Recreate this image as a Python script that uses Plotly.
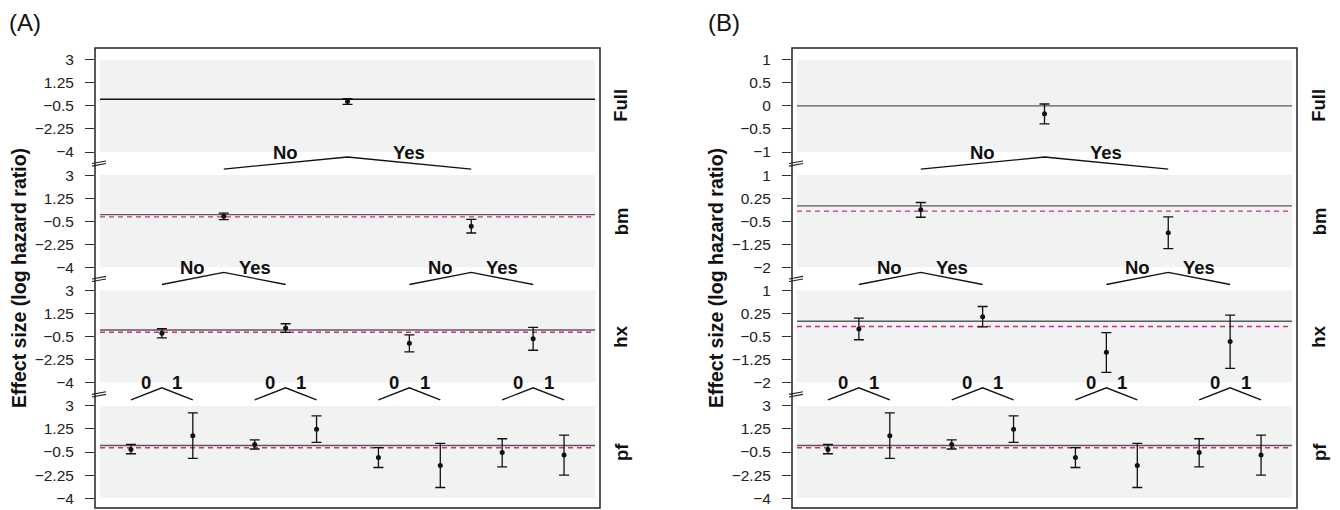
import plotly.graph_objects as go

# ---------------- data ----------------
levels = ["Full", "bm", "hx", "pf"]
branch_labels = [None, ["No", "Yes"], ["No", "Yes"], ["0", "1"]]

full_est = [-0.17]
full_lo = [-0.39]
full_hi = [0.04]

bm_est = [-0.13, -0.87]
bm_lo = [-0.37, -1.39]
bm_hi = [0.11, -0.36]

hx_est = [-0.25, 0.15, -1.01, -0.66]
hx_lo = [-0.60, -0.18, -1.66, -1.53]
hx_hi = [0.10, 0.48, -0.37, 0.20]

pf_est = [-0.30, 0.74, 0.08, 1.22, -0.91, -1.52, -0.53, -0.73]
pf_lo = [-0.63, -0.98, -0.27, 0.24, -1.67, -3.19, -1.62, -2.25]
pf_hi = [0.08, 2.47, 0.43, 2.24, -0.17, 0.16, 0.51, 0.79]

reference_value = 0.0          # solid line
pooled_value = -0.17           # dashed line (full-model estimate)

ticks_A = [[3, 1.25, -0.5, -2.25, -4]] * 4
ticks_B = [[1, 0.5, 0, -0.5, -1],
           [1, 0.25, -0.5, -1.25, -2],
           [1, 0.25, -0.5, -1.25, -2],
           [3, 1.25, -0.5, -2.25, -4]]

series = [(full_est, full_lo, full_hi), (bm_est, bm_lo, bm_hi),
          (hx_est, hx_lo, hx_hi), (pf_est, pf_lo, pf_hi)]

# ---------------- layout constants (pixels) ----------------
W, H = 1340, 510
FONT = "Liberation Sans, Arial, Helvetica, sans-serif"
BOX_TOP, BOX_BOT = 48, 508
BAND_T0, BAND_PITCH, BAND_H = 59.7, 115.4, 92.3
INSET = 5
BAND_COLOR = "#f1f2f2"

panels = [
    dict(name="(A)", x0=95, x1=600, ticks=ticks_A, letter_x=25, title_x=19, strip_dx=21,
         full_line="#111111"),
    dict(name="(B)", x0=792, x1=1297, ticks=ticks_B, letter_x=724, title_x=716, strip_dx=22,
         full_line="#5a5a5a"),
]


def fx(px):
    return px / W


def fy(py):
    return 1 - py / H


def fmt(v):
    return ("%g" % v).replace("-", "\u2212")


fig = go.Figure()
layout = dict(width=W, height=H, margin=dict(l=0, r=0, t=0, b=0),
              paper_bgcolor="white", plot_bgcolor="white", showlegend=False,
              template="none", font=dict(family=FONT, color="#111"))
shapes = []
annotations = []

for p, pan in enumerate(panels):
    bw = pan["x1"] - pan["x0"] - 2 * INSET
    xr = [-INSET / bw, 1 + INSET / bw]
    for i in range(4):
        n = p * 4 + i + 1
        xa = "xaxis" if n == 1 else f"xaxis{n}"
        ya = "yaxis" if n == 1 else f"yaxis{n}"
        xr_ = "x" if n == 1 else f"x{n}"
        yr_ = "y" if n == 1 else f"y{n}"
        tv = pan["ticks"][i]
        hi, lo = max(tv), min(tv)
        ppu = BAND_H / (hi - lo)
        T = BAND_T0 + BAND_PITCH * i
        B = T + BAND_H
        dom_top = BOX_TOP if i == 0 else BAND_T0 + BAND_PITCH * (i - 1) + BAND_H
        dom_bot = B if i < 3 else BOX_BOT
        r_top = hi + (T - dom_top) / ppu
        r_bot = lo - (dom_bot - B) / ppu

        layout[xa] = dict(domain=[fx(pan["x0"]), fx(pan["x1"])], range=xr, visible=False,
                          anchor=yr_, fixedrange=True)
        layout[ya] = dict(domain=[fy(dom_bot), fy(dom_top)], range=[r_bot, r_top],
                          anchor=xr_, tickmode="array", tickvals=tv,
                          ticktext=[fmt(v) for v in tv], ticks="outside", ticklen=9,
                          tickwidth=1.2, tickcolor="#333", showline=False, showgrid=False,
                          zeroline=False, ticklabelstandoff=8,
                          tickfont=dict(size=15.5, color="#222", family=FONT))

        # grey band
        shapes.append(dict(type="rect", xref=xr_, yref=yr_, x0=0, x1=1, y0=lo, y1=hi,
                           fillcolor=BAND_COLOR, line=dict(width=0), layer="below"))
        # reference lines
        shapes.append(dict(type="line", xref=xr_, yref=yr_, x0=0, x1=1,
                           y0=reference_value, y1=reference_value, layer="below",
                           line=dict(color=pan["full_line"] if i == 0 else "#5a5a5a", width=1.4)))
        if i > 0:
            shapes.append(dict(type="line", xref=xr_, yref=yr_, x0=0, x1=1,
                               y0=pooled_value, y1=pooled_value, layer="below",
                               line=dict(color="#e0248f", width=1.4, dash="5px,4px")))

        est, los, his = series[i]
        k = len(est)
        xs = [(j + 0.5) / k for j in range(k)]
        fig.add_trace(go.Scatter(
            x=xs, y=est, mode="markers", xaxis=xr_, yaxis=yr_,
            marker=dict(size=5, color="#111"),
            error_y=dict(type="data", symmetric=False,
                         array=[h - e for h, e in zip(his, est)],
                         arrayminus=[e - l for e, l in zip(est, los)],
                         thickness=1.3, width=5, color="#111"),
            hoverinfo="skip", showlegend=False))

        # tree connectors in the gap above this band
        if i > 0:
            prevB = BAND_T0 + BAND_PITCH * (i - 1) + BAND_H
            y_apex = hi + (T - (prevB + 5)) / ppu
            y_end = hi + 6 / ppu
            kp = k // 2
            cx, cy = [], []
            for j in range(kp):
                px_ = (j + 0.5) / kp
                xl, xr2 = xs[2 * j], xs[2 * j + 1]
                cx += [xl, px_, xr2, None]
                cy += [y_end, y_apex, y_end, None]
                lab = branch_labels[i]
                annotations.append(dict(x=(xl + px_) / 2, y=r_top, xref=xr_, yref=yr_,
                                        text=f"<b>{lab[0]}</b>", showarrow=False,
                                        xanchor="center", yanchor="middle",
                                        font=dict(size=18.5, family=FONT, color="#111")))
                annotations.append(dict(x=(xr2 + px_) / 2, y=r_top, xref=xr_, yref=yr_,
                                        text=f"<b>{lab[1]}</b>", showarrow=False,
                                        xanchor="center", yanchor="middle",
                                        font=dict(size=18.5, family=FONT, color="#111")))
            fig.add_trace(go.Scatter(x=cx, y=cy, mode="lines", xaxis=xr_, yaxis=yr_,
                                     line=dict(color="#111", width=1.3),
                                     hoverinfo="skip", showlegend=False))

        # strip label on the right
        annotations.append(dict(x=fx(pan["x1"] + pan["strip_dx"]), y=fy(T + BAND_H / 2),
                                xref="paper", yref="paper", text=f"<b>{levels[i]}</b>",
                                textangle=-90, showarrow=False, xanchor="center",
                                yanchor="middle", font=dict(size=18.5, family=FONT, color="#111")))

        # axis break marks
        if i > 0:
            prevB = BAND_T0 + BAND_PITCH * (i - 1) + BAND_H
            ym = (prevB + T) / 2
            xb = pan["x0"] + 4
            for off in (-1.3, 1.3):
                shapes.append(dict(type="line", xref="paper", yref="paper",
                                   x0=fx(xb - 7), x1=fx(xb + 7),
                                   y0=fy(ym + 1.3 + off), y1=fy(ym - 1.3 + off),
                                   line=dict(color="#222", width=1.1)))

    # panel box
    shapes.append(dict(type="rect", xref="paper", yref="paper",
                       x0=fx(pan["x0"]), x1=fx(pan["x1"]), y0=fy(BOX_BOT), y1=fy(BOX_TOP),
                       line=dict(color="#222", width=1.5), fillcolor="rgba(0,0,0,0)"))
    # y axis title
    annotations.append(dict(x=fx(pan["title_x"]), y=fy((BOX_TOP + BOX_BOT) / 2),
                            xref="paper", yref="paper",
                            text="<b>Effect size (log hazard ratio)</b>", textangle=-90,
                            showarrow=False, xanchor="center", yanchor="middle",
                            font=dict(size=19.5, family=FONT, color="#111")))
    # panel letter
    annotations.append(dict(x=fx(pan["letter_x"]), y=fy(23), xref="paper", yref="paper",
                            text=pan["name"], showarrow=False, xanchor="center",
                            yanchor="middle", font=dict(size=24, family=FONT, color="#111")))

layout["shapes"] = shapes
layout["annotations"] = annotations
fig.update_layout(**layout)
fig.write_html("out.html")
